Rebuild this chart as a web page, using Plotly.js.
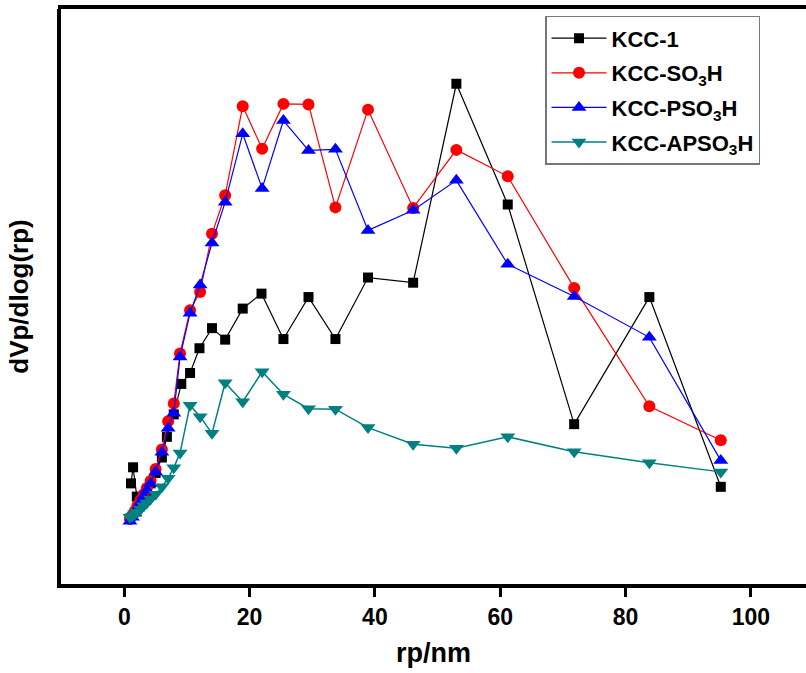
<!DOCTYPE html>
<html>
<head>
<meta charset="utf-8">
<script src="https://cdn.plot.ly/plotly-3.0.1.min.js"></script>
<style>
html, body { margin: 0; padding: 0; overflow: hidden; background: #fff; }
#chart { width: 806px; height: 673px; }
</style>
</head>
<body>
<div id="chart"></div>
<script>
// Pore radius (nm) and dVp/dlog(rp) (arbitrary units)
const xKCC1 = [1.07, 1.4, 2.0, 2.6, 3.1, 3.6, 4.2, 5.0, 6.0, 6.8, 7.9, 9.1, 10.5, 12.0, 14.0, 16.1, 18.9, 21.9, 25.4, 29.4, 33.7, 38.9, 46.1, 53.0, 61.2, 71.8, 83.8, 95.2];
const yKCC1 = [17.5, 20.3, 15.2, 14.4, 15.2, 16.2, 17.5, 19.3, 22.0, 25.6, 29.5, 34.8, 36.7, 41.0, 44.5, 42.5, 47.9, 50.5, 42.6, 49.9, 42.6, 53.3, 52.4, 87.0, 66.0, 27.8, 49.9, 16.9];

const xSulf = [0.9, 1.3, 1.7, 2.1, 2.6, 3.1, 3.6, 4.2, 5.0, 6.0, 7.0, 7.9, 8.9, 10.5, 12.1, 14.0, 16.1, 18.9, 22.0, 25.4, 29.4, 33.7, 38.9, 46.1, 53.0, 61.2, 71.8, 83.8, 95.2];
const ySO3H = [11.3, 12.0, 12.7, 13.6, 14.6, 15.6, 16.7, 17.9, 20.0, 23.4, 28.3, 31.4, 40.1, 47.6, 50.8, 60.9, 67.6, 83.1, 75.7, 83.5, 83.4, 65.5, 82.5, 65.4, 75.5, 70.9, 51.5, 30.9, 25.0];
const yPSO3H = [10.9, 11.6, 12.3, 13.2, 14.2, 15.3, 16.3, 17.5, 19.5, 22.9, 27.1, 29.7, 39.5, 47.1, 52.0, 59.3, 66.4, 78.3, 68.8, 80.6, 75.4, 75.6, 61.5, 65.0, 70.2, 55.6, 50.0, 42.9, 21.5];
const yAPSO3H = [11.6, 11.8, 12.2, 12.5, 13.0, 13.6, 14.1, 14.8, 15.6, 16.9, 18.4, 20.2, 22.8, 31.1, 29.1, 26.2, 35.0, 31.7, 36.9, 33.0, 30.5, 30.4, 27.2, 24.3, 23.6, 25.6, 23.0, 21.1, 19.5];

const seriesNames = ['KCC-1', 'KCC-SO<sub>3</sub>H', 'KCC-PSO<sub>3</sub>H', 'KCC-APSO<sub>3</sub>H'];
const xTicks = [0, 20, 40, 60, 80, 100];

const FONT = 'Liberation Sans, Arial, Helvetica, sans-serif';

const traces = [
  { x: xKCC1, y: yKCC1, name: seriesNames[0], legendgroup: 'a', type: 'scatter', mode: 'lines+markers',
    line: { color: '#000000', width: 1.2 },
    marker: { symbol: 'square', size: 10, color: '#000000' } },
  { x: xSulf, y: ySO3H, name: seriesNames[1], legendgroup: 'b', type: 'scatter', mode: 'lines+markers',
    line: { color: '#ff0000', width: 1.2 },
    marker: { symbol: 'circle', size: 12, color: '#ff0000' } },
  { x: xSulf, y: yPSO3H, name: seriesNames[2], legendgroup: 'c', type: 'scatter', mode: 'lines+markers',
    line: { color: '#0000ff', width: 1.2 },
    marker: { symbol: 'triangle-up', size: 13, color: '#0000ff' } },
  { x: xSulf, y: yAPSO3H, name: seriesNames[3], legendgroup: 'd', type: 'scatter', mode: 'lines+markers',
    line: { color: '#008080', width: 1.5 },
    marker: { symbol: 'triangle-down', size: 13, color: '#008080' } }
];

const layout = {
  width: 806, height: 673,
  margin: { l: 61, r: 0, t: 9, b: 89 },
  paper_bgcolor: '#ffffff', plot_bgcolor: '#ffffff',
  font: { family: FONT, color: '#000000' },
  showlegend: true,
  legend: {
    x: 0.6497, y: 0.988, xanchor: 'left', yanchor: 'top',
    bgcolor: '#ffffff', bordercolor: '#777777', borderwidth: 1.5,
    font: { family: FONT, size: 22, color: '#000000', weight: 'bold' },
    itemwidth: 55, tracegroupgap: 3
  },
  xaxis: {
    range: [-10.1, 108.8],
    tickmode: 'array', tickvals: xTicks, ticktext: xTicks.map(String),
    ticks: 'outside', ticklen: 9, tickwidth: 3, tickcolor: '#000000',
    tickfont: { family: FONT, size: 23, color: '#000000', weight: 'bold' },
    showline: true, linewidth: 4, linecolor: '#000000', mirror: false,
    showgrid: false, zeroline: false,
    title: { text: 'rp/nm', font: { family: FONT, size: 27, color: '#000000', weight: 'bold' }, standoff: 16 }
  },
  yaxis: {
    range: [0, 100],
    ticks: '', showticklabels: false,
    showline: true, linewidth: 4, linecolor: '#000000', mirror: false,
    showgrid: false, zeroline: false,
    title: { text: 'dVp/dlog(rp)', font: { family: FONT, size: 26, color: '#000000', weight: 'bold' }, standoff: 22 }
  },
  shapes: [
    { type: 'line', xref: 'paper', yref: 'paper', x0: -0.004, x1: 1.0, y0: 1.0035, y1: 1.0035,
      line: { color: '#000000', width: 4 }, layer: 'above' }
  ]
};

Plotly.newPlot('chart', traces, layout, { displayModeBar: false, staticPlot: true });
</script>
</body>
</html>
